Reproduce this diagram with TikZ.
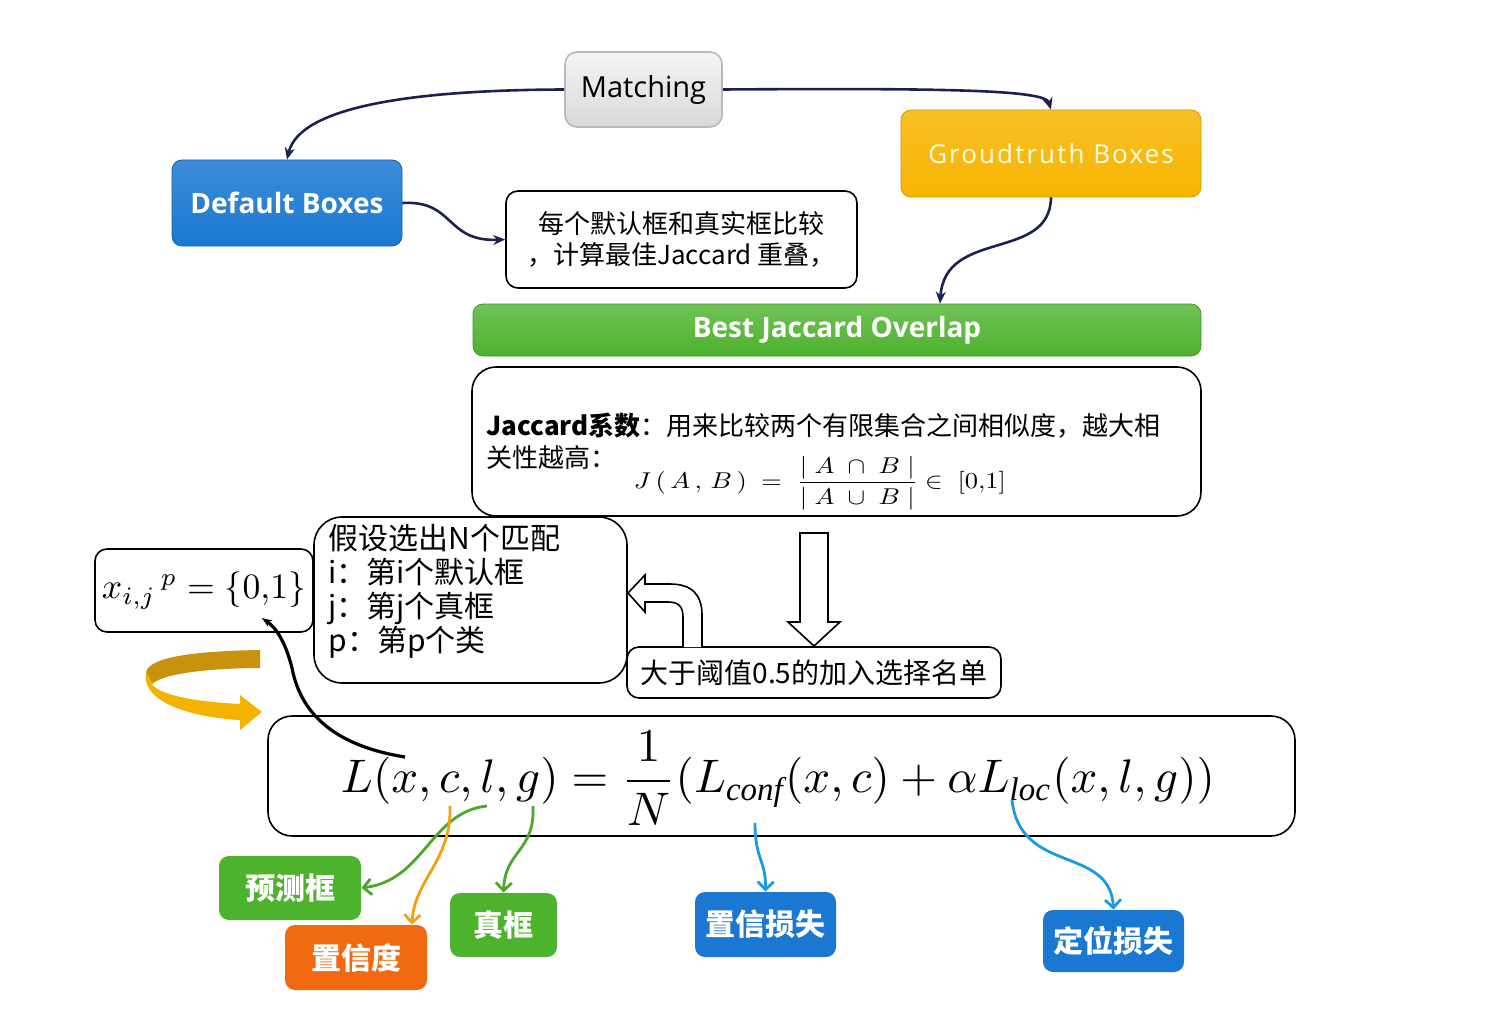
\documentclass[tikz,border=0pt]{standalone}
\usepackage{fontspec}
\usepackage{amsmath}
\setmainfont{Open Sans}
\newfontfamily\cjk{Noto Sans CJK SC}
\newfontfamily\gtfont[LetterSpace=8]{Open Sans}
\newfontfamily\serifit{Liberation Serif}
\usetikzlibrary{arrows.meta}
\definecolor{navy}{HTML}{1C2150}
\definecolor{boxblue}{HTML}{1A78D2}
\definecolor{boxgreen}{HTML}{4DB22C}
\definecolor{boxorange}{HTML}{F26A10}
\definecolor{boxyellow}{HTML}{F7B500}
\definecolor{tgreen}{HTML}{4AA82A}
\definecolor{torange}{HTML}{F0A010}
\definecolor{tblue}{HTML}{1A9AE0}
\definecolor{ribbon}{HTML}{F5B301}
\definecolor{ribbondark}{HTML}{C8920C}
\tikzset{
  box/.style={draw, rounded corners=6pt, inner sep=0pt, line width=0.8pt},
  colbox/.style={rounded corners=5pt, inner sep=0pt, text=white,
    font=\cjk\bfseries\fontsize{15pt}{17pt}\selectfont},
  link/.style={navy, line width=1.3pt, -{Stealth[length=6pt,width=5pt]}},
  tag/.style={line width=1.4pt, -{Straight Barb[length=4pt,width=8pt]}}
}
\begin{document}
\begin{tikzpicture}[x=0.5pt,y=-0.5pt]
\useasboundingbox (0,0) rectangle (1492,1016);
% top row
\node[box, draw=gray!55, top color=gray!8, bottom color=gray!30, minimum width=78.5pt, minimum height=37.5pt, font=\fontsize{14.5pt}{17pt}\selectfont] (match) at (643.5,89.5) {Matching};
\node[colbox, draw=boxblue!80!black, top color=boxblue!85!white, bottom color=boxblue, minimum width=115pt, minimum height=43pt, font=\bfseries\fontsize{14pt}{17pt}\selectfont] (dflt) at (287,203) {Default Boxes};
\node[colbox, draw=boxyellow!85!black, top color=boxyellow!85!white, bottom color=boxyellow, text=white!92!yellow, minimum width=150pt, minimum height=43.5pt, font=\gtfont\fontsize{13pt}{16pt}\selectfont] (gt) at (1051,153.5) {Groudtruth Boxes};
\node[box, minimum width=175.5pt, minimum height=48.5pt, align=center, font=\cjk\fontsize{13pt}{15.5pt}\selectfont] (note) at (681.5,239.5) {每个默认框和真实框比较\\，计算最佳Jaccard 重叠，};
\node[colbox, draw=boxgreen!85!black, top color=boxgreen!80!white, bottom color=boxgreen, minimum width=364pt, minimum height=26pt, font=\bfseries\fontsize{14pt}{17pt}\selectfont] (best) at (837,330) {Best Jaccard Overlap};
% Jaccard coefficient
\node[box, rounded corners=12pt, minimum width=364.5pt, minimum height=74.5pt] (jac) at (836.5,441.5) {};
\node[anchor=west, align=left, inner sep=0pt, font=\cjk\fontsize{13pt}{16pt}\selectfont] (jactxt) at (486,441) {\textbf{Jaccard系数}：用来比较两个有限集合之间相似度，越大相\\关性越高：};
\node[inner sep=0pt] (jacf) at (820,483) {\resizebox*{186pt}{27pt}{$\displaystyle J\,(\,A\,,\,B\,)\;=\;\frac{|\;A\;\cap\;B\;|}{|\;A\;\cup\;B\;|}\in\;[0{,}1]$}};
% threshold
\draw[fill=white, line width=0.8pt] (800,533) -- (828,533) -- (828,622) -- (840,622) -- (814,646) -- (788,622) -- (800,622) -- cycle;
\node[box, minimum width=187pt, minimum height=25.5pt, font=\cjk\fontsize{14pt}{16pt}\selectfont] (thr) at (814,672.5) {大于阈值0.5的加入选择名单};
\node[box, rounded corners=14pt, minimum width=156.5pt, minimum height=83pt] (assume) at (470.5,600) {};
\node[anchor=north west, align=left, inner sep=0pt, font=\cjk\fontsize{15pt}{17pt}\selectfont] (assumetxt) at (328,524) {假设选出N个匹配\\i：第i个默认框\\j：第j个真框\\p：第p个类};
\draw[fill=white, line width=0.8pt] (683,647) -- (683,617) .. controls (683,606) and (678,602) .. (668,602) -- (645,602) -- (645,612) -- (628,593) -- (645,575) -- (645,584) -- (670,584) .. controls (692,584) and (702,595) .. (702,615) -- (702,647);
% indicator and loss
\node[box, minimum width=109pt, minimum height=41.5pt] (xbox) at (204,590.5) {\resizebox{102pt}{!}{$x_{i,j}{}^{\,p}=\{0{,}1\}$}};
\fill[ribbondark] (260,650) .. controls (200,651) and (150,656) .. (146,672) -- (152,684) .. controls (165,672) and (220,668) .. (260,668) -- cycle;
\fill[ribbon] (146,672) .. controls (140,705) and (200,718) .. (240,720) -- (240,730) -- (262,712) -- (240,695) -- (240,704) .. controls (200,702) and (160,696) .. (152,684) -- cycle;
\node[box, rounded corners=12pt, minimum width=513.5pt, minimum height=60pt] (loss) at (781.5,776) {};
\node[inner sep=0pt] (lossf) at (778,778) {\resizebox{437pt}{!}{$\displaystyle L(x,c,l,g)=\frac{1}{N}(L_{\text{\serifit\itshape conf}}(x,c)+\alpha L_{\text{\serifit\itshape loc}}(x,l,g))$}};
% loss terms
\node[colbox, fill=boxgreen, minimum width=71pt, minimum height=32pt] (pred) at (290,888) {预测框};
\node[colbox, fill=boxorange, minimum width=71pt, minimum height=32.5pt] (conf) at (356,957.5) {置信度};
\node[colbox, fill=boxgreen, minimum width=53.5pt, minimum height=32pt] (truth) at (503.5,925) {真框};
\node[colbox, fill=boxblue, minimum width=70.5pt, minimum height=32.5pt] (closs) at (765.5,924.5) {置信损失};
\node[colbox, fill=boxblue, minimum width=70.5pt, minimum height=31pt] (lloss) at (1113.5,941) {定位损失};
\coordinate (pc) at (487,806);
\coordinate (cc) at (450,806);
\coordinate (gc) at (533,806);
\coordinate (fc) at (755,823);
\coordinate (lc) at (1012,800);
\coordinate (lx) at (405,757);
\coordinate (zero) at (262,618);
% connectors
\draw[link] (match.west) .. controls (420,90) and (300,105) .. (dflt.north);
\draw[link] (match.east) .. controls (950,88) and (1045,90) .. (gt.north);
\draw[link] (dflt.east) .. controls (455,200) and (445,242) .. (note.west);
\draw[link] (gt.south) .. controls (1050,262) and (945,228) .. ([xshift=51.5pt]best.north);
\draw[line width=1.6pt, -{Stealth[length=5pt]}] (lx) .. controls (330,745) and (300,710) .. (292,668) .. controls (285,640) and (275,627) .. (zero);
\draw[tag, tgreen] (pc) .. controls (430,812) and (425,880) .. (pred.east);
\draw[tag, torange] (cc) .. controls (452,860) and (414,880) .. ([xshift=28pt]conf.north);
\draw[tag, tgreen] (gc) .. controls (535,852) and (505,850) .. (truth.north);
\draw[tag, tblue] (fc) .. controls (755,860) and (766,860) .. (closs.north);
\draw[tag, tblue] (lc) .. controls (1020,875) and (1110,845) .. (lloss.north);
\end{tikzpicture}
\end{document}
